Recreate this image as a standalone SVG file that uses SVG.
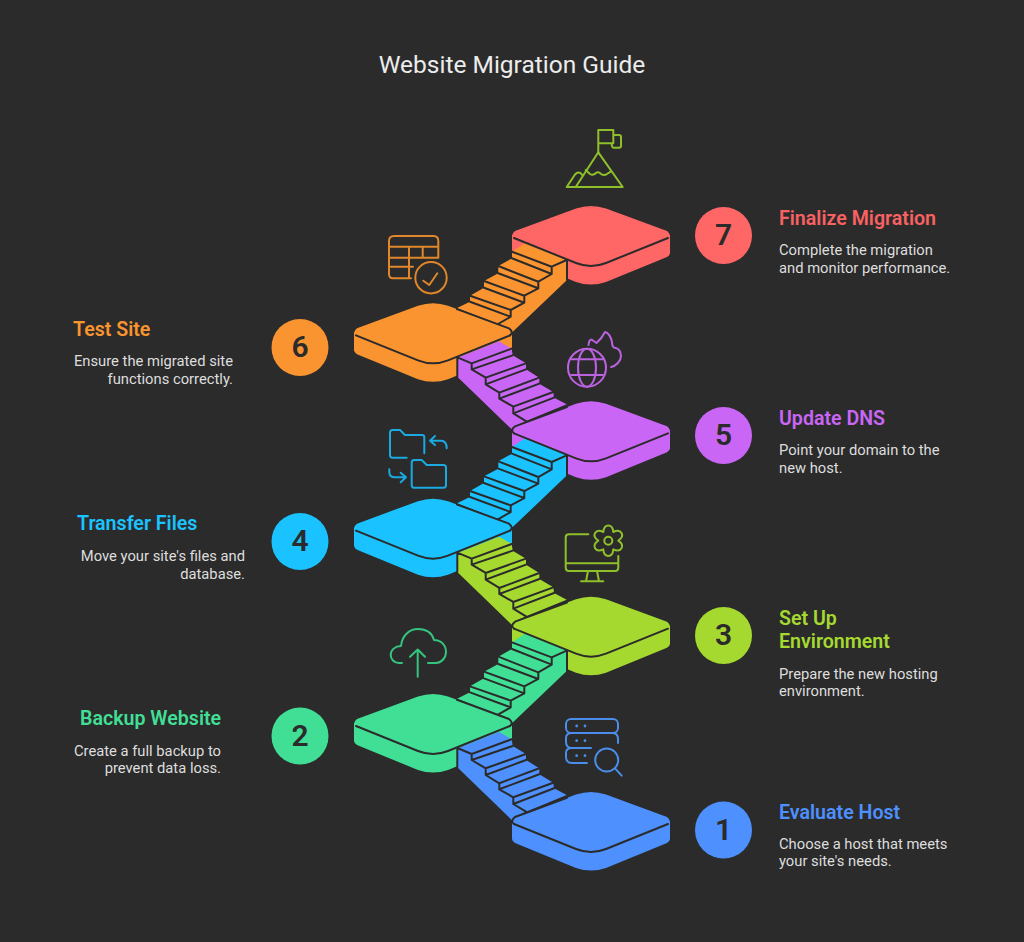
<svg xmlns="http://www.w3.org/2000/svg" xmlns:xlink="http://www.w3.org/1999/xlink" width="1024" height="942" viewBox="0 0 1024 942">
<style>
text{font-family:Roboto,"Liberation Sans",sans-serif}
.title{font-size:24.5px;fill:#ececec;text-anchor:middle}
.h{font-size:19.6px;font-weight:600}
.d{font-size:14.75px;fill:#dedede}
.r{text-anchor:end}
.n{font-size:30px;font-weight:600;fill:#2b2b2b;text-anchor:middle}
.e{fill:none;stroke:#2b2b2b;stroke-width:2;stroke-linejoin:round;stroke-linecap:round}
.i{fill:none;stroke-width:2;stroke-linecap:round;stroke-linejoin:round}
</style>
<defs>
<path id="side" d="M-79,-1 L-79,17 Q-79,19 -76,21 L-15,46 Q0,51 15,46 L76,21 Q79,19 79,17 L79,-1 Z"/>
<path id="top" d="M-77,2 Q-81,-1 -76,-5 L-15,-27.5 Q0,-32.5 15,-27.5 L76,-5 Q81,-1 77,2 L15,27 Q0,33 -15,27 Z"/>
<path id="edge-low" class="e" d="M-77,2 L-15,27 Q0,33 15,27 L77,2"/>
<path id="edge-ul" class="e" d="M-24,-24.2 L-76,-5 Q-81,-1 -77,2"/>
<path id="edge-ur" class="e" d="M24,-24.2 L76,-5 Q81,-1 77,2"/>
<g id="stair-up">
<path d="M457,308 L470,301.7 L470,295.7 L484,287.7 L484,281 L498.3,273.3 L498.3,266 L512,258.3 L512,251.7 L525,243 L567,258.5 L567,280 L512.5,332 L498,324 Z"/>
<path class="e" d="M567,259.5 V280 M498,324 L510.7,316.7 V310 L524.3,302.7 V295.7 L538.3,288.3 V281.7 L551.7,274 V266.7 L566.7,260 M470,301.7 L510.7,316.7 M470,295.7 L510.7,310 M484,287.7 L524.3,302.7 M484,281 L524.3,295.7 M498.3,273.3 L538.3,288.3 M498.3,266 L538.3,281.7 M512,258.3 L551.7,274 M512,251.7 L551.7,266.7"/>
</g>
<g id="stair-down">
<path d="M457.3,748.3 L499,732 L511.7,739.3 L512.7,746 L526,754 L526,760 L539.3,768.3 L539.3,774.3 L553.3,782.7 L554,788.3 L566.7,795 L526,811.7 L513,818 L511.7,820 L457.3,767.3 Z"/>
<path class="e" d="M457.3,748 V767.3 M457.3,748 L471.7,754 V760 L485.7,768.3 V775 L499.3,783.3 V789.3 L513.3,797.3 V804 L526,811.7 M471.7,754 L511.7,739.3 M471.7,760 L512.7,746 M485.7,768.3 L526,754 M485.7,775 L526,760 M499.3,783.3 L539.3,768.3 M499.3,789.3 L539.3,774.3 M513.3,797.3 L553.3,782.7 M513.3,804 L554,788.3"/>
</g>
</defs>
<rect width="1024" height="942" fill="#2b2b2b"/>
<text class="title" x="512" y="73">Website Migration Guide</text>

<g id="step-7" fill="#ff6767">
<use href="#side" x="591" y="236"/>
<use href="#stair-up" fill="#f99431"/>
<use href="#top" x="591" y="236"/>
<use href="#edge-low" x="591" y="236"/>
<circle cx="723.5" cy="235.5" r="28.5"/>
<text class="n" x="723.5" y="245">7</text>
<text class="h" x="779" y="224.5" fill="#f96262">Finalize Migration</text>
<text class="d" x="779" y="255">Complete the migration</text>
<text class="d" x="779" y="272.5">and monitor performance.</text>
<g class="i" stroke="#8fc02a">
<path d="M598.3,153 V130 H613.3 V143.3 H598.3 M613.3,135 H619 Q621,135 621,137 V146 Q621,147.7 619,147.7 H613.5 Q611.7,147.7 611.7,143.3"/>
<path d="M566.7,187 H622.7 L598.3,152.3 L575.7,187 M566.7,187 L575,174.5 Q578,171 581,173.5 L582.5,175.5"/>
<path d="M585.7,170 L590,174 Q593,176 596,173 Q598.3,171 601,174 Q604,176 607,174 L610.7,171.7"/>
</g>
</g>

<g id="step-6" fill="#f99431">
<use href="#side" x="433" y="333.33"/>
<use href="#stair-down" y="-390.67" fill="#c966f5"/>
<use href="#top" x="433" y="333.33"/>
<use href="#edge-low" x="433" y="333.33"/>
<use href="#edge-ur" x="433" y="333.33"/>
<circle cx="300" cy="347.5" r="28.5"/>
<text class="n" x="300" y="357">6</text>
<text class="h" x="73" y="336" fill="#f9952f">Test Site</text>
<text class="d r" x="233" y="366">Ensure the migrated site</text>
<text class="d r" x="233" y="384">functions correctly.</text>
<g class="i" stroke="#e0872b">
<path d="M411,278.3 H393 Q389,278.3 389,274 V241 Q389,236 394,236 H433.5 Q438.3,236 438.3,241 V257.7 M389,246.7 H438.3 M389,257.7 H438.3 M389,266.7 H413 M409,246.7 V278 M422.7,246.7 V257.7"/>
<circle cx="431" cy="277.7" r="15.7"/>
<path d="M423.3,280.7 L429.3,285 L437.3,273.3"/>
</g>
</g>

<g id="step-5" fill="#c966f5">
<use href="#side" x="591" y="431.33"/>
<use href="#stair-up" y="195.33" fill="#1ac3ff"/>
<use href="#top" x="591" y="431.33"/>
<use href="#edge-low" x="591" y="431.33"/>
<use href="#edge-ul" x="591" y="431.33"/>
<circle cx="723.5" cy="435.5" r="28.5"/>
<text class="n" x="723.5" y="445">5</text>
<text class="h" x="779" y="424.5" fill="#c966f5">Update DNS</text>
<text class="d" x="779" y="455">Point your domain to the</text>
<text class="d" x="779" y="472.5">new host.</text>
<g class="i" stroke="#bb62e0">
<circle cx="587" cy="367.7" r="19"/>
<ellipse cx="587" cy="367.7" rx="9" ry="19"/>
<path d="M571,359.3 H603 M571,375 H603"/>
<path d="M588.5,345 C589,341 590,339.5 591.5,339.5 L596.5,343 C600,340 603,336 605,332 C608,332 611,337 612,342 C612,346 613,348 615.5,348 C618,348 621,351 621,356 C621,361 616,366 611,367"/>
</g>
</g>

<g id="step-4" fill="#1ac3ff">
<use href="#side" x="433" y="528.67"/>
<use href="#stair-down" y="-195.33" fill="#a5d930"/>
<use href="#top" x="433" y="528.67"/>
<use href="#edge-low" x="433" y="528.67"/>
<use href="#edge-ur" x="433" y="528.67"/>
<circle cx="300" cy="541.5" r="28.5"/>
<text class="n" x="300" y="551">4</text>
<text class="h" x="77" y="530" fill="#1ac3ff">Transfer Files</text>
<text class="d r" x="245" y="561">Move your site's files and</text>
<text class="d r" x="245" y="578.5">database.</text>
<g class="i" stroke="#1aa9e0">
<path d="M424.3,453.3 V437 Q424.3,435 422,435 H405 L400,430 H392.5 Q390,430 390,432.5 V455 Q390,457.7 392.5,457.7 H406.7"/>
<path d="M414,460 H421.7 L426.7,465 H443.5 Q446,465 446,467.5 V485 Q446,487.7 443.5,487.7 H414 Q411.7,487.7 411.7,485 V462.5 Q411.7,460 414,460 Z"/>
<path d="M435,436 L430,440.7 L435,445 M430,440.7 H441 Q446.7,440.7 446.7,448.3"/>
<path d="M389.3,469.3 V472 Q389.3,477.3 395,477.3 H406 M400.7,472.7 L406,477.3 L400.7,482.3"/>
</g>
</g>

<g id="step-3" fill="#a5d930">
<use href="#side" x="591" y="626.67"/>
<use href="#stair-up" y="390.67" fill="#40df95"/>
<use href="#top" x="591" y="626.67"/>
<use href="#edge-low" x="591" y="626.67"/>
<use href="#edge-ul" x="591" y="626.67"/>
<circle cx="723.5" cy="635.5" r="28.5"/>
<text class="n" x="723.5" y="645">3</text>
<text class="h" x="779" y="624.5" fill="#a5d930">Set Up</text>
<text class="h" x="779" y="647.5" fill="#a5d930">Environment</text>
<text class="d" x="779" y="678.5">Prepare the new hosting</text>
<text class="d" x="779" y="696">environment.</text>
<g class="i" stroke="#8fc02a">
<path d="M588.3,534.3 H569 Q565.7,534.3 565.7,537.5 V567.5 Q565.7,571 569,571 H615 Q618.3,571 618.3,567.5 V556 M565.7,563.3 H618.3 M588,571 L586,581.3 M597,571 L599,581.3 M581,581.3 H603.3"/>
<path transform="translate(608.3,540.7)" d="M-5,-8.66 C-4.35,-17.47 4.35,-17.47 5,-8.66 C12.95,-12.5 17.3,-4.96 10,0 C17.3,4.96 12.95,12.5 5,8.66 C4.35,17.47 -4.35,17.47 -5,8.66 C-12.95,12.5 -17.3,4.96 -10,0 C-17.3,-4.96 -12.95,-12.5 -5,-8.66 Z"/>
<circle cx="608.3" cy="540.7" r="4"/>
</g>
</g>

<g id="step-2" fill="#40df95">
<use href="#side" x="433" y="724"/>
<use href="#stair-down" fill="#4d90fe"/>
<use href="#top" x="433" y="724"/>
<use href="#edge-low" x="433" y="724"/>
<use href="#edge-ur" x="433" y="724"/>
<circle cx="300" cy="736" r="28.5"/>
<text class="n" x="300" y="745.5">2</text>
<text class="h" x="80" y="724.5" fill="#40df95">Backup Website</text>
<text class="d r" x="221" y="755.5">Create a full backup to</text>
<text class="d r" x="221" y="773">prevent data loss.</text>
<g class="i" stroke="#35c47f">
<path d="M402,663 H399 C394,663 390.7,659 390.7,655 C390.7,650 395,646 401,646 C402,636 409,629 418,629 C426,629 432,633 434,640 C441,640 446,645 446,652 C446,658 441,663 436,663 H428"/>
<path d="M417.7,676.7 V650 M410,656.7 L417.7,649.5 L425,656.7"/>
</g>
</g>

<g id="step-1" fill="#4d90fe">
<use href="#side" x="591" y="822"/>
<use href="#top" x="591" y="822"/>
<use href="#edge-low" x="591" y="822"/>
<use href="#edge-ul" x="591" y="822"/>
<circle cx="723.5" cy="830" r="28.5"/>
<text class="n" x="723.5" y="839.5">1</text>
<text class="h" x="779" y="818.5" fill="#4d90fe">Evaluate Host</text>
<text class="d" x="779" y="849">Choose a host that meets</text>
<text class="d" x="779" y="866">your site's needs.</text>
<g class="i" stroke="#4a8dea">
<rect x="566" y="719" width="52" height="14" rx="5"/>
<path d="M612,733 Q618,733 618,739 V743 M572,733 Q566,733 566,738 V742 Q566,748 572,748 H591 M572,748 Q566,748 566,753 V757 Q566,763 572,763 H587"/>
<circle cx="606.7" cy="760" r="11.5"/>
<path d="M615,768.3 L621.7,775.7"/>
</g>
<g fill="#4a8dea">
<circle cx="576.7" cy="726" r="1.4"/><circle cx="585" cy="726" r="1.4"/>
<circle cx="576.7" cy="740.7" r="1.4"/><circle cx="585" cy="740.7" r="1.4"/>
<circle cx="576.7" cy="755.7" r="1.4"/><circle cx="585" cy="755.7" r="1.4"/>
</g>
</g>
</svg>
